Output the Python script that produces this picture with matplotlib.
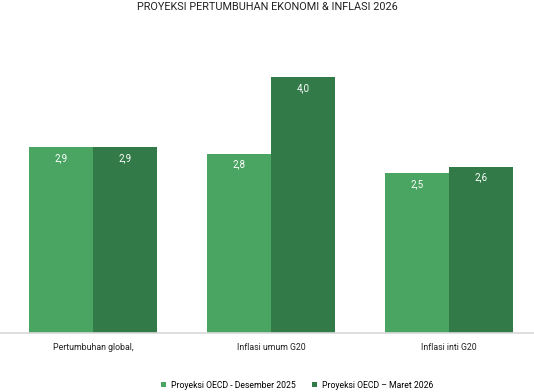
import numpy as np
import matplotlib.pyplot as plt

# data
categories = ["Pertumbuhan global,", "Inflasi umum G20", "Inflasi inti G20"]
des_2025 = [2.9, 2.8, 2.5]
mar_2026 = [2.9, 4.0, 2.6]
series_names = ["Proyeksi OECD - Desember 2025", "Proyeksi OECD \u2013 Maret 2026"]

light = "#4aa562"
dark = "#327a48"
plt.rcParams["font.family"] = ["Roboto", "DejaVu Sans"]

fig = plt.figure(figsize=(5.34, 3.92), dpi=100)
ax = fig.add_axes([0, 59 / 392, 1, 280 / 392])

x = np.arange(len(categories))
w = 64 / 178
b1 = ax.bar(x - w / 2, des_2025, w, color=light, label=series_names[0])
b2 = ax.bar(x + w / 2, mar_2026, w, color=dark, label=series_names[1])

# value labels inside the bar tops
for bars, vals in [(b1, des_2025), (b2, mar_2026)]:
    for bar, v in zip(bars, vals):
        ax.text(bar.get_x() + bar.get_width() / 2, v - 0.17, f"{v:.1f}".replace(".", ","),
                ha="center", va="center", color="white", fontsize=7)

ax.set_xlim(-93 / 178, (534 - 93) / 178)
ax.set_ylim(0, 280 / 64)
ax.set_xticks(x)
ax.set_xticklabels(categories, fontsize=6.3, color="#222222")
ax.tick_params(axis="x", length=0, pad=7)
ax.set_yticks([])
for s in ["top", "left", "right"]:
    ax.spines[s].set_visible(False)
ax.spines["bottom"].set_color("#d9d9d9")
ax.spines["bottom"].set_linewidth(1.2)

fig.text(0.5, 1 - 7 / 392, "PROYEKSI PERTUMBUHAN EKONOMI & INFLASI 2026",
         ha="center", va="center", fontsize=7.8, color="#222222")

ax.legend(loc="center", bbox_to_anchor=(297 / 534, 7 / 392), bbox_transform=fig.transFigure,
          ncol=2, frameon=False, fontsize=6.2, handlelength=0.55, handleheight=0.55,
          handletextpad=0.6, columnspacing=1.9)

fig.savefig("out.png", dpi=100)
